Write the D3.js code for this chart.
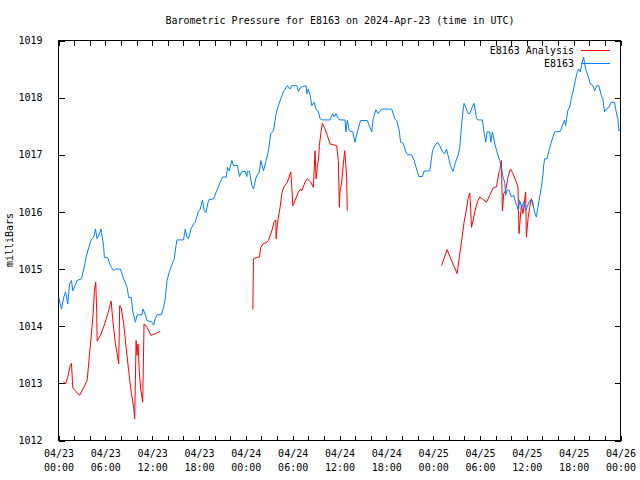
<!DOCTYPE html>
<html><head><meta charset="utf-8">
<script src="https://cdn.jsdelivr.net/npm/d3@7"></script>
<style>body{margin:0;background:#fff}svg{display:block}text{font-family:"DejaVu Sans Mono",monospace;font-size:10px;fill:#000}</style>
</head><body>
<svg id="c" width="640" height="480"></svg>
<script>
// hours since 2024-04-23 00:00 UTC
const stationHours = [0.04,0.38,0.68,0.90,1.19,1.41,1.66,1.83,2.39,2.94,3.24,3.54,3.88,4.18,4.51,4.73,4.95,5.15,5.46,5.79,5.88,6.30,6.65,7.07,7.29,7.93,8.35,8.79,8.99,9.34,9.50,9.85,10.06,10.27,10.70,10.83,11.13,11.34,11.98,12.19,12.41,12.62,13.17,13.47,13.68,13.90,14.20,14.54,14.83,15.05,15.18,16.02,16.24,16.46,16.66,16.97,17.30,17.52,17.87,18.16,18.45,18.67,18.89,19.22,19.86,20.30,20.72,21.01,21.49,21.65,21.87,22.21,22.42,22.93,23.19,23.49,23.91,24.13,24.21,24.47,24.77,24.98,25.32,25.74,25.92,26.26,26.60,26.89,27.20,27.53,27.75,27.88,28.17,28.48,28.81,29.12,29.32,29.67,29.89,30.53,30.73,31.04,31.72,31.81,32.01,32.23,32.45,32.74,33.00,33.29,33.51,33.85,34.79,35.13,35.34,35.55,35.85,36.06,36.70,36.83,37.00,37.25,37.69,37.98,38.28,38.71,39.56,39.90,40.12,40.32,40.67,40.96,41.40,42.68,43.10,43.32,43.65,43.83,44.16,44.51,44.72,45.23,45.57,45.87,46.17,46.64,46.81,47.57,47.92,48.21,48.56,48.85,49.20,49.49,49.71,49.91,50.22,50.55,50.86,51.19,51.41,51.63,51.83,51.96,52.18,52.47,52.69,52.98,53.24,53.55,53.75,54.31,54.48,54.74,54.90,55.25,55.38,55.59,55.89,56.18,56.53,56.74,56.95,57.17,57.29,57.46,57.72,58.02,58.32,58.54,58.74,58.92,59.08,59.34,59.60,59.85,60.02,60.36,60.71,61.00,61.22,61.42,61.64,61.86,62.06,62.15,62.28,62.58,62.83,63.14,63.56,63.78,64.29,64.55,64.84,64.97,65.26,65.48,65.70,65.90,66.21,66.41,66.63,66.85,67.05,67.27,67.40,67.61,67.82,68.13,68.46,68.68,68.97,69.23,69.53,69.74,69.95,70.17,70.51,70.81,71.23,71.45,71.66,71.79,71.97];
const stationPressure = [1014.50,1014.30,1014.51,1014.60,1014.39,1014.74,1014.80,1014.62,1014.80,1014.83,1015.00,1015.21,1015.38,1015.51,1015.56,1015.70,1015.53,1015.59,1015.70,1015.38,1015.20,1015.20,1015.06,1014.97,1015.00,1015.00,1014.83,1014.68,1014.50,1014.50,1014.27,1014.07,1014.19,1014.20,1014.20,1014.30,1014.20,1014.10,1014.07,1014.02,1014.14,1014.20,1014.20,1014.33,1014.48,1014.80,1014.95,1015.08,1015.18,1015.41,1015.51,1015.51,1015.70,1015.56,1015.53,1015.70,1015.79,1015.82,1015.99,1016.05,1016.21,1016.02,1015.99,1016.21,1016.23,1016.38,1016.52,1016.61,1016.61,1016.78,1016.72,1016.90,1016.81,1016.81,1016.62,1016.71,1016.71,1016.62,1016.71,1016.71,1016.46,1016.40,1016.61,1016.70,1016.90,1016.72,1016.90,1017.07,1017.37,1017.42,1017.60,1017.72,1017.86,1017.98,1018.10,1018.17,1018.21,1018.15,1018.21,1018.21,1018.11,1018.18,1018.21,1018.07,1018.15,1018.04,1017.86,1017.92,1017.80,1017.75,1017.63,1017.61,1017.61,1017.72,1017.66,1017.72,1017.63,1017.61,1017.61,1017.40,1017.60,1017.42,1017.40,1017.22,1017.40,1017.60,1017.60,1017.48,1017.40,1017.63,1017.79,1017.72,1017.80,1017.80,1017.63,1017.60,1017.42,1017.22,1017.20,1017.05,1017.00,1017.00,1016.90,1016.75,1016.62,1016.62,1016.71,1016.72,1017.07,1017.16,1017.22,1017.16,1017.05,1017.02,1017.10,1016.99,1016.81,1016.71,1016.87,1016.99,1017.13,1017.51,1017.78,1017.90,1017.83,1017.72,1017.72,1017.83,1017.90,1017.63,1017.61,1017.61,1017.42,1017.22,1017.40,1017.40,1017.22,1017.40,1017.19,1017.05,1016.90,1016.78,1016.61,1016.52,1016.29,1016.38,1016.38,1016.26,1016.29,1016.17,1016.11,1016.02,1016.20,1016.08,1016.17,1016.02,1016.08,1016.20,1016.20,1015.99,1015.91,1016.08,1016.26,1016.43,1016.64,1016.81,1016.93,1016.93,1017.07,1017.22,1017.40,1017.41,1017.41,1017.51,1017.61,1017.51,1017.78,1017.83,1017.98,1018.10,1018.30,1018.42,1018.50,1018.45,1018.59,1018.71,1018.59,1018.47,1018.39,1018.24,1018.21,1018.12,1018.21,1018.21,1018.04,1017.98,1017.75,1017.80,1017.83,1017.92,1017.92,1017.75,1017.63,1017.42,1017.45];

// null marks a gap in the analysis series
const analysisHours = [0.64,0.90,1.19,1.50,1.66,1.83,2.17,2.69,3.24,3.67,3.88,4.18,4.44,4.60,4.77,4.90,4.95,5.37,5.92,6.36,6.74,6.94,7.29,7.51,7.71,7.84,8.02,8.35,8.66,8.99,9.34,9.63,9.76,9.85,9.94,10.06,10.19,10.36,10.53,10.78,10.87,10.96,11.34,11.86,12.41,13.04,18.0,
24.90,24.98,25.32,25.74,25.92,26.18,26.69,26.89,27.33,27.62,27.84,27.88,28.05,28.17,28.39,28.61,28.81,29.32,29.76,29.89,30.02,30.31,30.73,31.04,31.16,31.59,31.88,32.32,32.65,32.87,33.00,33.16,33.34,33.42,33.60,33.80,34.15,34.44,34.79,35.64,35.85,35.98,36.06,36.28,36.49,36.67,36.79,36.92,37.00,42.0,
49.07,49.79,50.35,51.07,51.41,51.71,51.96,52.27,52.47,52.69,52.78,52.91,53.11,53.46,53.75,53.97,54.39,54.83,55.25,55.67,56.11,56.44,56.53,56.74,56.87,57.04,57.29,57.59,57.90,58.23,58.66,58.87,59.00,59.17,59.30,59.51,59.85,59.94,60.15,60.36,60.58,60.78];
const analysisPressure = [1013.03,1012.99,1013.11,1013.31,1013.35,1012.92,1012.87,1012.79,1012.93,1013.05,1013.37,1013.81,1014.23,1014.62,1014.77,1014.24,1013.74,1013.84,1014.04,1014.24,1014.44,1014.13,1013.69,1013.52,1013.34,1014.36,1014.33,1014.04,1013.63,1013.22,1012.82,1012.58,1012.38,1013.05,1013.75,1013.49,1013.69,1013.19,1012.90,1012.67,1013.34,1014.04,1013.98,1013.84,1013.87,1013.91,null,
1014.29,1015.18,1015.20,1015.21,1015.38,1015.44,1015.47,1015.50,1015.67,1015.82,1015.86,1015.53,1015.79,1015.91,1016.08,1016.32,1016.42,1016.52,1016.70,1016.43,1016.11,1016.20,1016.35,1016.40,1016.37,1016.52,1016.58,1016.52,1016.43,1017.07,1016.58,1016.78,1016.96,1017.16,1017.37,1017.55,1017.45,1017.34,1017.19,1017.16,1016.90,1016.08,1016.35,1016.52,1016.84,1017.07,1016.87,1016.61,1016.02,null,
1015.06,1015.34,1015.15,1014.92,1015.27,1015.56,1015.82,1016.05,1016.23,1016.33,1016.14,1015.73,1015.85,1016.08,1016.20,1016.26,1016.22,1016.17,1016.29,1016.42,1016.44,1016.70,1016.72,1016.90,1016.02,1016.32,1016.38,1016.61,1016.75,1016.67,1016.52,1016.43,1015.62,1015.91,1016.11,1015.97,1016.35,1015.56,1015.88,1016.08,1016.23,1016.11];

const yTicks = [1012,1013,1014,1015,1016,1017,1018,1019];
const seriesNames = ["E8163 Analysis","E8163"];
const seriesColors = ["#ff0000","#0080ff"];
const titleText = "Barometric Pressure for E8163 on 2024-Apr-23 (time in UTC)";
const yLabel = "milliBars";

const t0 = Date.UTC(2024,3,23,0,0);
const toDate = h => new Date(t0 + h*3600000);

const L=58.5,R=620.5,T=40.5,B=440.5;
const svg = d3.select("#c");
const x = d3.scaleUtc().domain([toDate(0),toDate(72)]).range([L,R]);
const y = d3.scaleLinear().domain([1012,1019]).range([B,T]);

svg.append("text").attr("x",340).attr("y",24).attr("text-anchor","middle").text(titleText);

const fmt = d => {
  if (d.getUTCHours()%6!==0) return "";
  return d3.utcFormat("%m/%d")(d)+"|"+d3.utcFormat("%H:%M")(d);
};
const minorTicks = d3.utcHour.every(2).range(toDate(0),toDate(72.01));

// bottom axis
const gb = svg.append("g").attr("transform",`translate(0,${B})`)
  .call(d3.axisBottom(x).tickValues(minorTicks).tickSize(-5).tickFormat(fmt).tickSizeOuter(0));
gb.select(".domain").remove();
gb.selectAll(".tick text").each(function(d){
  const s = fmt(d); const el=d3.select(this); el.text(null);
  if(!s) return;
  const [a,b]=s.split("|");
  el.attr("y",0).attr("dy",null);
  el.append("tspan").attr("x",0).attr("y",16.5).text(a);
  el.append("tspan").attr("x",0).attr("y",30.5).text(b);
});
// top ticks
const gt = svg.append("g").attr("transform",`translate(0,${T})`)
  .call(d3.axisTop(x).tickValues(minorTicks).tickSize(-5).tickFormat("").tickSizeOuter(0));
gt.select(".domain").remove();
// left axis
const gl = svg.append("g").attr("transform",`translate(${L},0)`)
  .call(d3.axisLeft(y).tickValues(yTicks).tickSize(-6).tickFormat(d3.format("d")).tickPadding(16).tickSizeOuter(0));
gl.select(".domain").remove();
const gr = svg.append("g").attr("transform",`translate(${R},0)`)
  .call(d3.axisRight(y).tickValues(yTicks).tickSize(-6).tickFormat("").tickSizeOuter(0));
gr.select(".domain").remove();
svg.selectAll(".tick line").attr("stroke","#000").attr("shape-rendering","crispEdges");
svg.selectAll(".tick text").style("font-family",'"DejaVu Sans Mono",monospace').style("font-size","10px").attr("fill","#000");

svg.append("rect").attr("x",L).attr("y",T).attr("width",R-L).attr("height",B-T)
  .attr("fill","none").attr("stroke","#000").attr("shape-rendering","crispEdges");

svg.append("text").attr("transform",`translate(13,240) rotate(-90)`).attr("text-anchor","middle").text(yLabel);

const line = d3.line().defined(d=>d[1]!==null).x(d=>x(toDate(d[0]))).y(d=>y(d[1]));
const analysis = analysisHours.map((h,i)=>[h,analysisPressure[i]]);
const station = stationHours.map((h,i)=>[h,stationPressure[i]]);

svg.append("path").datum(analysis).attr("d",line).attr("fill","none").attr("stroke",seriesColors[0]).attr("stroke-width",1);
svg.append("path").datum(station).attr("d",line).attr("fill","none").attr("stroke",seriesColors[1]).attr("stroke-width",1);

// legend
seriesNames.forEach((n,i)=>{
  const yy = 50 + i*13;
  svg.append("text").attr("x",574).attr("y",yy).attr("dy","0.35em").attr("text-anchor","end").text(n);
  svg.append("line").attr("x1",581).attr("x2",610).attr("y1",yy+0.5).attr("y2",yy+0.5)
    .attr("stroke",seriesColors[i]).attr("stroke-width",1);
});
</script>
</body></html>
